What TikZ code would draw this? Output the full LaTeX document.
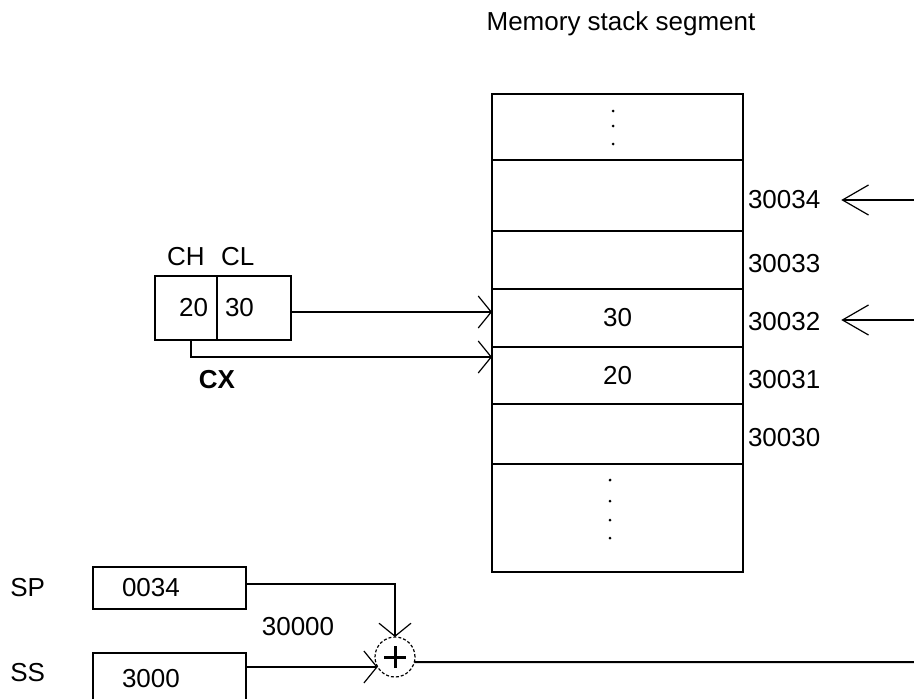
\documentclass[tikz,border=0pt]{standalone}
\usepackage{fontspec}
\setmainfont{Liberation Sans}
\usetikzlibrary{arrows.meta,positioning}

\begin{document}
\begin{tikzpicture}[x=1pt,y=-1pt,
  every node/.style={font=\fontsize{26}{30}\selectfont, inner sep=0pt, outer sep=0pt},
  cell/.style={draw, line width=2pt, minimum width=251pt, anchor=north west},
  reg/.style={draw, line width=2pt, anchor=north west},
  addr/.style={anchor=west, xshift=5pt, yshift=-4pt},
  ptr/.style={line width=2pt, -{Straight Barb[length=13pt,width=32pt,line width=1.2pt]}},
  inptr/.style={line width=2pt, -{Straight Barb[length=26pt,width=30pt,line width=1.2pt]}}]
  \useasboundingbox (0,0) rectangle (914,699);
  \clip (0,0) rectangle (914,699);

  \node[anchor=base] (title) at (621,30) {Memory stack segment};

  \node[cell, minimum height=66pt] (top) at (492,94) {};
  \node[cell, minimum height=71pt] (c34) at (top.south west) {};
  \node[cell, minimum height=58pt] (c33) at (c34.south west) {};
  \node[cell, minimum height=58pt] (c32) at (c33.south west) {30};
  \node[cell, minimum height=57pt] (c31) at (c32.south west) {20};
  \node[cell, minimum height=60pt] (c30) at (c31.south west) {};
  \node[cell, minimum height=108pt] (bot) at (c30.south west) {};
  \foreach \y in {111,126,144} \fill (613,\y) circle (1.5pt);
  \foreach \y in {480,501,520,538} \fill (610,\y) circle (1.5pt);

  \node[addr] (l34) at (c34.east) {30034};
  \node[addr] (l33) at (c33.east) {30033};
  \node[addr] (l32) at (c32.east) {30032};
  \node[addr] (l31) at (c31.east) {30031};
  \node[addr] (l30) at (c30.east) {30030};

  \coordinate (in34) at (914,200);
  \coordinate (in32) at (914,320);
  \draw[inptr] (in34) -- ([xshift=21pt]l34.east |- in34);
  \draw[inptr] (in32) -- ([xshift=21pt]l32.east |- in32);

  \node[reg, minimum width=62pt, minimum height=64pt, text width=44pt, inner xsep=9pt, align=right] (ch) at (155,276) {20};
  \node[reg, minimum width=74pt, minimum height=64pt, text width=58pt, inner xsep=8pt, align=left] (cl) at (ch.north east) {30};
  \node[above=10pt of ch.north] (chlab) {CH};
  \node[above right=10pt and 4pt of cl.north west] (cllab) {CL};
  \node[below=30pt of ch.south east, font=\fontsize{26}{30}\selectfont\bfseries] (cx) {CX};

  \draw[ptr] ([yshift=-4pt]cl.east) -- ([yshift=-4pt]cl.east -| c32.west);
  \draw[ptr] ([xshift=5pt]ch.south) |- ([yshift=-10pt]c31.north west);

  \node[reg, minimum width=153pt, minimum height=42pt, text width=95pt, inner xsep=29pt, align=left] (sp) at (93,567) {0034};
  \node[reg, minimum width=153pt, minimum height=52pt, text width=95pt, inner xsep=29pt, align=left] (ss) at (93,653) {3000};
  \node[left=48pt of sp] (splab) {SP};
  \node[left=48pt of ss, yshift=6pt] (sslab) {SS};
  \node (sum) at (298,627) {30000};

  \node[circle, draw, densely dashed, line width=1.2pt, minimum size=40pt] (add) at (395,657) {};
  \draw[line width=3pt] ([xshift=-11pt]add.center) -- ([xshift=11pt]add.center)
    ([yshift=-11pt]add.center) -- ([yshift=11pt]add.center);
  \draw[ptr] ([yshift=4pt]sp.east) -| (add.north);
  \draw[ptr] (ss.east |- add.210) -- (add.210);
  \coordinate (out) at (914,662);
  \draw[line width=2pt] (add.-15) -- (out);
\end{tikzpicture}
\end{document}
